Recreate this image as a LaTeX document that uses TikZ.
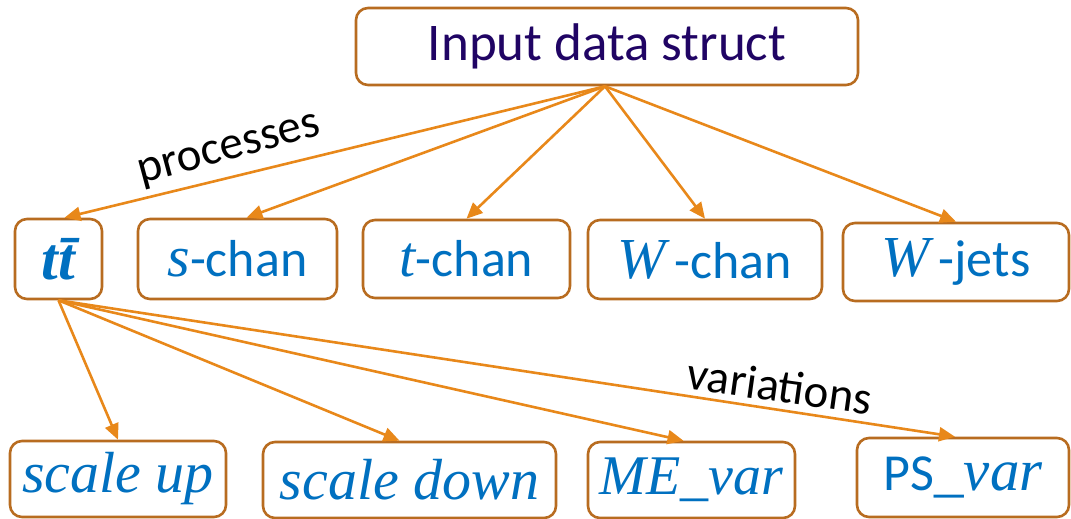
\documentclass[tikz,border=0pt]{standalone}
\usepackage{fontspec}
\setmainfont{Carlito}
\newfontfamily\mitfont{Liberation Serif}
\usetikzlibrary{arrows.meta}
\definecolor{boxbrown}{RGB}{184,108,32}
\definecolor{arrorange}{RGB}{232,136,26}
\definecolor{textblue}{RGB}{0,112,192}
\definecolor{topviolet}{RGB}{32,4,100}
\newcommand{\mv}[1]{{\mitfont\itshape\fontsize{58}{64}\selectfont #1}}
\begin{document}
\begin{tikzpicture}[x=1pt,y=-1pt,
  box/.style={draw=boxbrown, line width=2.6pt, rounded corners=12pt, fill=white,
    inner sep=0pt, text=textblue, font=\fontsize{52}{60}\selectfont},
  mbox/.style={box, font=\fontsize{58}{64}\selectfont},
  arr/.style={draw=arrorange, line width=2.6pt, -{Triangle[length=16pt,width=14pt]}},
  lbl/.style={text=black, font=\fontsize{47}{54}\selectfont, inner sep=0pt}]
\useasboundingbox (0,0) rectangle (1071,519);
\node[box, text=topviolet, font=\fontsize{53}{60}\selectfont, minimum width=502pt, minimum height=77pt] (top) at (607,46.5) {Input data struct};
\node[mbox, minimum width=87pt, minimum height=80pt] (tt) at (58.5,259) {{\mitfont\bfseries\itshape\fontsize{60}{66}\selectfont tt̄}};
\node[box, minimum width=199pt, minimum height=80pt] (sch) at (237.5,259) {\mv{s}-chan};
\node[box, minimum width=207pt, minimum height=78pt] (tch) at (466.5,259) {\mv{t}-chan};
\node[box, minimum width=234pt, minimum height=79pt] (wch) at (705,259.5) {\mv{W}\,-chan};
\node[box, minimum width=226pt, minimum height=78pt] (wj) at (956,262) {\mv{W}\,-jets};
\node[mbox, minimum width=216pt, minimum height=76pt] (su) at (118,479) {{\mitfont\itshape scale up}};
\node[mbox, minimum width=293pt, minimum height=76pt] (sd) at (409.5,480) {{\mitfont\itshape scale down}};
\node[mbox, minimum width=207pt, minimum height=76pt] (me) at (691.5,480) {{\mitfont\itshape\fontsize{56}{64}\selectfont ME\_var}};
\node[box, minimum width=212pt, minimum height=79pt] (ps) at (963,477.5) {PS{\mitfont\itshape\fontsize{59}{66}\selectfont\_var}};
\draw[arr] ([xshift=-2pt]top.south) -- ([xshift=6pt]tt.north);
\draw[arr] ([xshift=-2pt]top.south) -- ([xshift=9pt]sch.north);
\draw[arr] ([xshift=-2pt]top.south) -- (tch.north);
\draw[arr] ([xshift=-2pt]top.south) -- (wch.north);
\draw[arr] ([xshift=-2pt]top.south) -- (wj.north);
\draw[arr] (tt.south) -- (su.north);
\draw[arr] (tt.south) -- ([xshift=-10pt]sd.north);
\draw[arr] (tt.south) -- ([xshift=-8pt]me.north);
\draw[arr] (tt.south) -- ([xshift=-8pt]ps.north);
\node[lbl, rotate=15] (lp) at (230,152) {processes};
\node[lbl, rotate=-8] (lv) at (780,386) {variations};
\end{tikzpicture}
\end{document}
